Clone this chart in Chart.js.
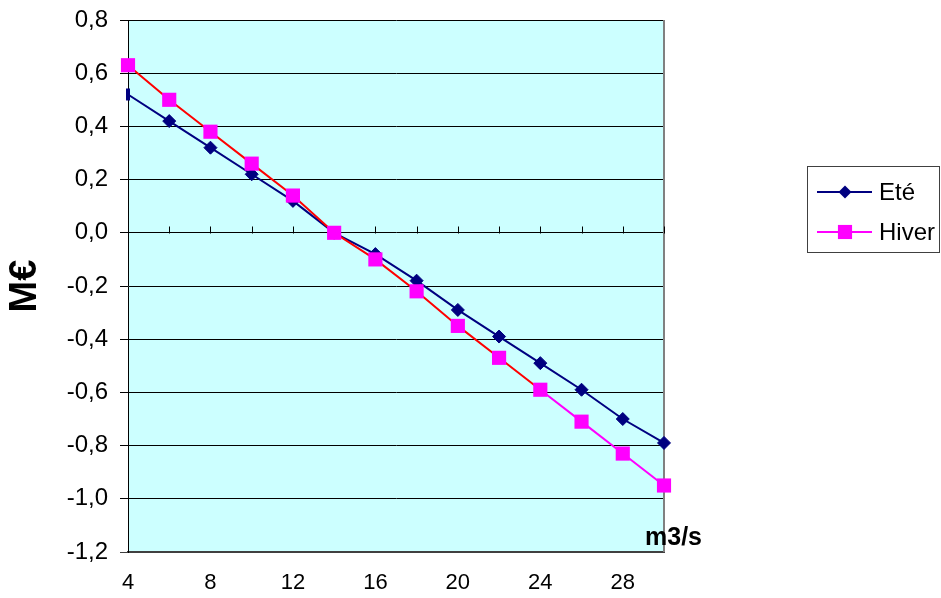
<!DOCTYPE html>
<html>
<head>
<meta charset="utf-8">
<script src="https://cdn.jsdelivr.net/npm/chart.js@4.4.1/dist/chart.umd.min.js"></script>
<style>
  html, body { margin: 0; padding: 0; background: #fff; }
  #wrap { width: 941px; height: 598px; }
</style>
</head>
<body>
<div id="wrap"><canvas id="chart" width="941" height="598"></canvas></div>
<script>
// ─── DATA ────────────────────────────────────────────────────────────────
const debits = ['4', '6', '8', '10', '12', '14', '16', '18', '20', '22', '24', '26', '28', '30'];
const ete    = [0.52, 0.42, 0.32, 0.22, 0.12, 0.00, -0.08, -0.18, -0.29, -0.39, -0.49, -0.59, -0.70, -0.79];
const hiver  = [0.63, 0.50, 0.38, 0.26, 0.14, 0.00, -0.10, -0.22, -0.35, -0.47, -0.59, -0.71, -0.83, -0.95];
const xTickLabels = ['4', '8', '12', '16', '20', '24', '28'];
const yTicks = { min: -1.2, max: 0.8, step: 0.2 };

const FONT = '"Liberation Sans", Arial, sans-serif';
const NAVY = '#000080', MAGENTA = '#FF00FF', RED = '#FF0000';

// ─── DECOR PLUGIN (plot bg, borders, zero-line ticks, legend, x title) ───
const decor = {
  id: 'decor',
  beforeDraw(chart) {
    const { ctx, chartArea: a } = chart;
    ctx.save();
    ctx.fillStyle = '#CCFFFF';
    ctx.fillRect(a.left, a.top, a.right - a.left, a.bottom - a.top);
    ctx.restore();
  },
  beforeDatasetsDraw(chart) {
    const { ctx, chartArea: a, scales } = chart;
    ctx.save();
    // right border
    ctx.strokeStyle = '#808080';
    ctx.lineWidth = 2;
    ctx.beginPath();
    ctx.moveTo(a.right, a.top);
    ctx.lineTo(a.right, a.bottom);
    ctx.stroke();
    // tick marks on the zero line
    const y0 = Math.round(scales.y.getPixelForValue(0)) + 0.5;
    ctx.strokeStyle = '#000';
    ctx.lineWidth = 1;
    ctx.beginPath();
    debits.forEach((d, i) => {
      const x = Math.round(scales.x.getPixelForValue(i)) + 0.5;
      ctx.moveTo(x, y0);
      ctx.lineTo(x, y0 - 7);
    });
    ctx.stroke();
    ctx.restore();
  },
  afterDraw(chart) {
    const { ctx, chartArea: a } = chart;
    ctx.save();
    // x axis title inside the plot
    ctx.fillStyle = '#000';
    ctx.font = 'bold 25px ' + FONT;
    ctx.textBaseline = 'alphabetic';
    ctx.textAlign = 'left';
    ctx.fillText('m3/s', a.right - 19, a.bottom - 7);

    // legend
    const bx = 807.5, by = 166.5, bw = 132, bh = 86;
    ctx.fillStyle = '#fff';
    ctx.fillRect(bx, by, bw, bh);
    ctx.strokeStyle = '#404040';
    ctx.lineWidth = 1;
    ctx.strokeRect(bx, by, bw, bh);
    const items = [
      { label: chart.data.datasets[0].label, color: NAVY, style: 'rectRot', r: 6.5, y: 192 },
      { label: chart.data.datasets[1].label, color: MAGENTA, style: 'rect', r: 10, y: 232 }
    ];
    items.forEach(it => {
      ctx.strokeStyle = it.color;
      ctx.lineWidth = 2;
      ctx.beginPath();
      ctx.moveTo(817, it.y);
      ctx.lineTo(872, it.y);
      ctx.stroke();
      ctx.fillStyle = it.color;
      Chart.helpers.drawPoint(ctx, { pointStyle: it.style, radius: it.r, rotation: 0, borderWidth: 0 }, 845, it.y);
      ctx.fillStyle = '#000';
      ctx.font = '24px ' + FONT;
      ctx.textBaseline = 'middle';
      ctx.fillText(it.label, 879, it.y + 1);
    });
    ctx.restore();
  }
};

// ─── CHART ────────────────────────────────────────────────────────────────
const fmt = v => v.toFixed(1).replace('.', ',').replace('-0,0', '0,0');

new Chart(document.getElementById('chart'), {
  type: 'line',
  data: {
    labels: debits,
    datasets: [
      {
        label: 'Eté',
        data: ete,
        borderColor: NAVY,
        backgroundColor: NAVY,
        borderWidth: 2,
        pointStyle: c => c.dataIndex === 0 ? 'line' : 'rectRot',
        rotation: c => c.dataIndex === 0 ? 90 : 0,
        pointRadius: c => c.dataIndex === 0 ? 6 : 6.5,
        pointBorderWidth: c => c.dataIndex === 0 ? 4 : 1,
        pointBorderColor: NAVY,
        pointBackgroundColor: NAVY,
        tension: 0,
        order: 2
      },
      {
        label: 'Hiver',
        data: hiver,
        borderColor: MAGENTA,
        backgroundColor: MAGENTA,
        borderWidth: 2,
        segment: { borderColor: c => c.p1DataIndex <= 10 ? RED : MAGENTA },
        pointStyle: 'rect',
        pointRadius: 10,
        pointBorderWidth: 0,
        pointBackgroundColor: MAGENTA,
        tension: 0,
        order: 1
      }
    ]
  },
  options: {
    responsive: false,
    animation: false,
    devicePixelRatio: 1,
    clip: false,
    layout: { padding: { left: 0, top: 20, right: 277, bottom: 0 } },
    plugins: {
      legend: { display: false },
      tooltip: { enabled: false },
      title: { display: false }
    },
    scales: {
      x: {
        type: 'category',
        offset: false,
        grid: { display: true, drawOnChartArea: false, drawTicks: false },
        border: { color: '#404040', width: 2 },
        ticks: {
          autoSkip: false, maxRotation: 0, minRotation: 0,
          padding: 18, color: '#000',
          font: { family: FONT, size: 22 },
          callback(v) {
            const lab = this.getLabelForValue(v);
            return xTickLabels.includes(lab) ? lab : '';
          }
        },
        afterFit(s) { s.height = 46; }
      },
      y: {
        min: yTicks.min, max: yTicks.max,
        grid: {
          color: c => (c.tick && c.tick.value <= yTicks.min + 1e-9) ? '#404040' : '#000',
          lineWidth: 1, tickLength: 8
        },
        border: { color: '#000', width: 1 },
        ticks: {
          stepSize: yTicks.step, padding: 12, color: '#000',
          font: { family: FONT, size: 24, lineHeight: 0.6 },
          callback: v => fmt(v)
        },
        title: {
          display: true, text: 'M€', color: '#000',
          font: { family: FONT, size: 38, weight: 'bold' },
          padding: { top: 3, bottom: 0 }
        },
        afterFit(s) { s.width = 128; }
      }
    }
  },
  plugins: [decor]
});
</script>
</body>
</html>
